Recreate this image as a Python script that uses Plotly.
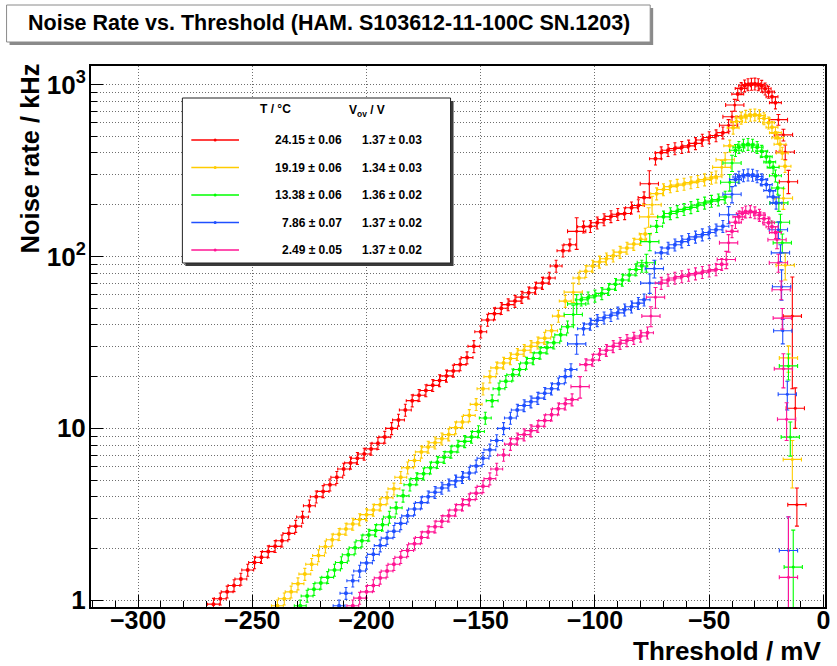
import plotly.graph_objects as go

# ---------------- data: dark-count rate vs. discriminator threshold ----------------
temperatures = ["24.15 ± 0.06", "19.19 ± 0.06", "13.38 ± 0.06", "7.86 ± 0.07", "2.49 ± 0.05"]
overvoltages = ["1.37 ± 0.03", "1.34 ± 0.03", "1.36 ± 0.02", "1.37 ± 0.02", "1.37 ± 0.02"]
colors = ["#ff0000", "#ffcc00", "#00ff00", "#1f4fff", "#ff1493"]

y_tick_vals = [1, 10, 100, 1000]
y_tick_text = ["1", "10", "10<sup>2</sup>", "10<sup>3</sup>"]

# T = 24.15 C : densely sampled points (mV, kHz)
red_x = [-267, -264, -261, -258, -255, -252, -249, -246, -243, -240, -237, -234, -231, -228, -225,
         -222, -219, -216, -213, -210, -207, -204, -201, -198, -195, -192, -189, -186, -183, -180,
         -177, -174, -171, -168, -165, -162, -159, -156, -153, -150, -147, -144, -141, -138, -135,
         -132, -129, -126, -123, -120, -117, -114, -111,
         -105, -102, -99, -96, -93, -90, -87, -84, -81, -78.5,
         -73.5, -71, -68, -65, -62, -59, -56, -53, -50, -47, -44,
         -37.5, -36, -34.5, -33, -31.5, -30, -28.5, -27, -25.5, -24, -22.5, -21]
red_y = [0.95, 1.02, 1.12, 1.22, 1.33, 1.50, 1.66, 1.78, 1.92, 2.06, 2.22, 2.45, 2.70, 3.05, 3.55,
         4.00, 4.30, 4.70, 5.20, 5.80, 6.30, 6.70, 7.10, 7.60, 8.20, 8.90, 10.0, 11.2, 12.8, 14.5,
         15.6, 16.6, 17.8, 19.0, 20.2, 21.6, 23.5, 25.8, 30.0, 36.5, 42.7, 46.5, 50.0, 52.5, 55.0,
         58.0, 61.5, 65.5, 70.0, 75.0, 88.0, 108, 117,
         149, 150, 157, 164, 171, 176, 178, 192, 198, 220,
         370, 402, 415, 425, 432, 440, 455, 476, 492, 505, 525,
         880, 950, 985, 1000, 1008, 1010, 1000, 980, 945, 905, 850, 785]
# sparsely sampled points (steps and fall-off) with their own uncertainties
red_sx = [-108, -76.2, -41.5, -40, -38.8, -19.7, -17.5, -16.7, -15.3, -13.6, -12.3, -11.6]
red_sy = [140, 265, 580, 650, 760, 625, 510, 405, 272, 45, 13.1, 3.6]
red_up = [28, 50, 45, 50, 60, 45, 40, 40, 45, 31, 4.1, 0.9]
red_dn = [30, 45, 45, 50, 60, 45, 40, 40, 40, 28, 3.1, 0.9]

# T = 19.19 C
yel_x = [-239, -236, -233, -230, -227, -224, -221, -218, -215, -212, -209, -206, -203, -200, -197,
         -194, -191, -188, -185, -182, -179, -176, -173, -170, -167, -164, -161, -158, -155, -152,
         -149, -146, -143, -140, -137, -134, -131, -128, -125, -122, -119, -116, -113,
         -107, -104, -101, -98, -95, -92, -89, -86, -83, -80, -78,
         -73, -70, -67, -64, -61, -58, -55, -52, -49, -47,
         -41, -39.5, -38, -36, -34, -32, -30, -28, -26, -24, -22.5, -21, -20, -19, -18, -16.8]
yel_y = [0.93, 1.02, 1.12, 1.25, 1.42, 1.62, 1.82, 2.05, 2.25, 2.42, 2.60, 2.78, 2.95, 3.15, 3.35,
         3.60, 3.95, 4.45, 5.20, 5.90, 6.50, 7.30, 7.80, 8.25, 8.70, 9.20, 10.1, 10.9, 11.9, 13.8,
         17.0, 20.0, 22.5, 24.0, 25.5, 27.0, 28.5, 30.0, 31.5, 33.5, 37.0, 45.0, 55.0,
         75, 82, 88, 93, 97, 101, 106, 112, 118, 126, 135,
         232, 245, 255, 260, 264, 269, 274, 280, 286, 291,
         440, 560, 610, 640, 655, 665, 668, 660, 635, 600, 565, 525, 490, 450, 400, 335]
yel_sx = [-109.5, -76.5, -75, -44.5, -43, -17.5, -16.7, -15.3, -13.6]
yel_sy = [62, 170, 200, 330, 365, 218, 89, 25.7, 6.6]
yel_up = [8, 22, 24, 32, 36, 30, 16, 4.5, 1.9]
yel_dn = [8, 22, 24, 32, 36, 30, 16, 4.5, 2.1]

# T = 13.38 C
grn_x = [-229, -226, -223, -220, -217, -214, -211, -208, -205, -202, -199, -196, -193, -190, -187,
         -184, -181, -178, -175, -172, -169, -166, -163, -160, -157, -154, -151, -148, -145, -142,
         -139, -136, -133, -130, -127, -124, -121, -118, -115, -112,
         -106, -103, -100, -97, -94, -91, -88, -85, -82, -79.5,
         -73, -70, -67, -64, -61, -58, -55, -52, -49, -46, -43,
         -38.5, -37, -35, -33, -31, -29, -27, -25, -23.5, -22, -21, -20]
grn_y = [0.93, 1.06, 1.16, 1.26, 1.36, 1.50, 1.66, 1.84, 2.02, 2.22, 2.40, 2.55, 2.75, 3.05, 3.45,
         4.05, 4.70, 5.10, 5.45, 5.90, 6.35, 6.80, 7.30, 7.90, 8.40, 8.90, 9.60, 11.5, 14.5, 17.0,
         18.8, 20.5, 22.0, 24.0, 25.5, 27.5, 29.5, 31.5, 35.0, 39.0,
         56, 57.5, 59, 61, 64.5, 69, 73, 78, 84, 88,
         150, 170, 178, 183, 188, 193, 199, 205, 210, 214, 222,
         415, 432, 445, 450, 445, 432, 410, 380, 355, 330, 295, 250]
grn_sx = [-109.5, -108, -77.5, -76, -41, -40, -19.5, -18.8, -18, -15.3, -14.5, -13.2]
grn_sy = [46, 53, 92, 122, 270, 350, 205, 158, 120, 23.1, 8.9, 1.56]
grn_up = [6, 7, 11, 14, 30, 38, 22, 18, 15, 4, 2, 1.0]
grn_dn = [6, 7, 11, 14, 30, 38, 22, 18, 15, 4, 2, 1.56]

# T = 7.86 C
blu_x = [-212, -209, -206, -203, -200, -197, -194, -191, -188, -185, -182, -179, -176, -173, -170,
         -167, -164, -161, -158, -155, -152, -149, -146, -143, -140, -137, -134, -131, -128, -125,
         -122, -119, -116, -113, -110.5,
         -105, -102, -99, -96, -93, -90, -87, -84, -81, -78.5,
         -71, -68, -65, -62, -59, -56, -53, -50, -47, -44,
         -38.5, -37, -35, -33, -31, -29, -27, -25, -23.5, -22, -20.7]
blu_y = [0.93, 1.10, 1.30, 1.48, 1.65, 1.85, 2.08, 2.30, 2.52, 2.80, 3.10, 3.40, 3.70, 4.00, 4.25,
         4.50, 4.70, 4.95, 5.20, 5.50, 6.05, 6.70, 7.50, 8.50, 10.0, 11.5, 12.8, 13.6, 14.3, 15.0,
         16.0, 17.0, 18.2, 20.0, 22.0,
         38, 40.5, 42.5, 44, 45.5, 47, 49, 51, 53.5, 56,
         105, 112, 117, 122, 126, 130, 134, 138, 143, 150,
         280, 290, 296, 299, 298, 292, 280, 262, 242, 222, 205]
blu_sx = [-108, -76, -74, -41.5, -40, -19.7, -18.8, -18.3, -17.8, -15.8, -15.3]
blu_sy = [31, 70, 85, 175, 230, 143, 105, 66.6, 37, 15.8, 1.95]
blu_up = [4, 9, 10, 20, 25, 16, 12, 17, 6, 3, 1.1]
blu_dn = [4, 9, 10, 20, 25, 16, 12, 11, 6, 3, 1.95]

# T = 2.49 C
pnk_x = [-206, -203, -200, -197, -194, -191, -188, -185, -182, -179, -176, -173, -170, -167, -164,
         -161, -158, -155, -152, -149, -146, -143, -140, -137, -134, -131, -128, -125, -122, -119,
         -116, -113, -110,
         -104, -101, -98, -95, -92, -89, -86, -83, -80, -77,
         -71, -68, -65, -62, -59, -56, -53, -50, -47, -44.5,
         -40, -38.5, -37, -35.5, -34, -32, -30, -28, -26, -24, -22.5, -21]
pnk_y = [0.93, 1.03, 1.12, 1.22, 1.35, 1.48, 1.62, 1.78, 1.95, 2.13, 2.32, 2.50, 2.68, 2.88, 3.10,
         3.35, 3.60, 3.85, 4.20, 4.60, 5.10, 5.80, 7.00, 8.10, 8.70, 9.20, 9.70, 10.3, 11.1, 12.0,
         13.0, 13.9, 14.7,
         23.5, 25.0, 27.0, 28.5, 30.0, 31.3, 32.5, 33.5, 34.5, 36.0,
         70, 73, 75, 76.5, 78, 79.5, 81, 82.5, 84, 90,
         140, 158, 170, 178, 182, 183, 180, 174, 166, 157, 149, 138]
pnk_sx = [-106.5, -75.5, -73.5, -42.5, -41.5, -20.3, -19.7, -18.5, -18, -17.5, -16.1, -15.3]
pnk_sy = [17.5, 45, 58, 96, 120, 125, 92, 64, 43.8, 22.2, 11.3, 1.36]
pnk_up = [2.5, 6, 8, 11, 14, 14, 11, 8, 6, 5, 2.8, 1.7]
pnk_dn = [2.5, 6, 8, 11, 14, 14, 11, 8, 6, 5, 2.8, 1.36]

series = [
    (red_x, red_y, red_sx, red_sy, red_up, red_dn),
    (yel_x, yel_y, yel_sx, yel_sy, yel_up, yel_dn),
    (grn_x, grn_y, grn_sx, grn_sy, grn_up, grn_dn),
    (blu_x, blu_y, blu_sx, blu_sy, blu_up, blu_dn),
    (pnk_x, pnk_y, pnk_sx, pnk_sy, pnk_up, pnk_dn),
]

# ---------------- figure geometry (pixels) ----------------
W, H = 837, 666
L, R, T, B = 91, 830, 66, 607
FONT = "Liberation Sans"


def fx(px):
    return (px - L) / (R - L)


def fy(py):
    return (B - py) / (B - T)


fig = go.Figure()

for (x, y, sx, sy, up, dn), c in zip(series, colors):
    fig.add_trace(go.Scatter(
        x=x, y=y, mode="markers",
        marker=dict(color=c, size=4),
        error_x=dict(type="constant", value=2.6, color=c, thickness=1.1, width=1.5),
        error_y=dict(type="percent", value=8, color=c, thickness=1.1, width=1.5),
        hoverinfo="x+y", showlegend=False,
    ))
    fig.add_trace(go.Scatter(
        x=sx, y=sy, mode="markers",
        marker=dict(color=c, size=3),
        error_x=dict(type="constant", value=4, color=c, thickness=1.1, width=2),
        error_y=dict(type="data", array=up, arrayminus=dn, symmetric=False,
                     color=c, thickness=1.1, width=2),
        hoverinfo="x+y", showlegend=False,
    ))

grid = dict(showgrid=True, gridcolor="#6e6e6e", gridwidth=1, griddash="1px,2px")

fig.update_xaxes(
    range=[-320.6, 0.7], tickmode="linear", tick0=0, dtick=50,
    ticks="inside", ticklen=12, tickwidth=1, tickcolor="black",
    showline=True, linecolor="black", linewidth=2, mirror=True, zeroline=False,
    tickfont=dict(family=FONT, size=25, color="black", weight="bold"),
    ticklabelstandoff=-10,
    minor=dict(dtick=10, tick0=0, ticks="inside", ticklen=6, tickcolor="black", showgrid=False),
    **grid,
)

minor_vals = [m * d for d in (1, 10, 100) for m in range(2, 10)]
fig.update_yaxes(
    type="log", range=[-0.039, 3.108],
    tickvals=y_tick_vals, ticktext=y_tick_text,
    ticks="inside", ticklen=12, tickwidth=1, tickcolor="black",
    showline=True, linecolor="black", linewidth=2, mirror=True, zeroline=False,
    tickfont=dict(family=FONT, size=26, color="black", weight="bold"),
    ticklabelstandoff=-2,
    minor=dict(tickvals=minor_vals, ticks="inside", ticklen=6, tickcolor="black",
               showgrid=True, gridcolor="#6e6e6e", griddash="1px,2px", gridwidth=1),
    **grid,
)

shapes = []
annotations = []

# title pave with shadow
shapes.append(dict(type="rect", xref="paper", yref="paper", layer="above",
                   x0=fx(9), x1=fx(657), y0=fy(45), y1=fy(8),
                   fillcolor="#8a8a8a", line=dict(width=0)))
shapes.append(dict(type="rect", xref="paper", yref="paper", layer="above",
                   x0=fx(6), x1=fx(654), y0=fy(42), y1=fy(5),
                   fillcolor="white", line=dict(color="#8a8a8a", width=1)))
annotations.append(dict(text="Noise Rate vs. Threshold (HAM. S103612-11-100C SN.1203)",
                        xref="paper", yref="paper", x=fx(331), y=fy(23),
                        xanchor="center", yanchor="middle", showarrow=False,
                        font=dict(family=FONT, size=21.5, color="black", weight="bold")))

# axis titles
annotations.append(dict(text="Threshold / mV", xref="paper", yref="paper",
                        x=fx(828), y=fy(651), xanchor="right", yanchor="middle",
                        showarrow=False,
                        font=dict(family=FONT, size=26, color="black", weight="bold")))
annotations.append(dict(text="Noise rate / kHz", xref="paper", yref="paper",
                        x=fx(30), y=fy(61), xanchor="center", yanchor="top",
                        textangle=-90, showarrow=False,
                        font=dict(family=FONT, size=25.5, color="black", weight="bold")))

# legend box with shadow
lx0, ly0, lx1, ly1 = 183, 98, 453, 263
shapes.append(dict(type="rect", xref="paper", yref="paper", layer="above",
                   x0=fx(lx0 + 3), x1=fx(lx1 + 3), y0=fy(ly1 + 3), y1=fy(ly0 + 3),
                   fillcolor="#3a3a3a", line=dict(width=0)))
shapes.append(dict(type="rect", xref="paper", yref="paper", layer="above",
                   x0=fx(lx0), x1=fx(lx1), y0=fy(ly1), y1=fy(ly0),
                   fillcolor="white", line=dict(color="#222222", width=1)))

lfont = dict(family=FONT, size=12, color="black", weight="bold")
annotations.append(dict(text="T / °C", xref="paper", yref="paper", x=fx(277), y=fy(109),
                        xanchor="center", yanchor="middle", showarrow=False, font=lfont))
annotations.append(dict(text="V<sub>ov</sub> / V", xref="paper", yref="paper", x=fx(349), y=fy(111),
                        xanchor="left", yanchor="middle", showarrow=False, font=lfont))

row0, row_step = 140, 27.5
for i, c in enumerate(colors):
    ry = row0 + i * row_step
    shapes.append(dict(type="line", xref="paper", yref="paper", layer="above",
                       x0=fx(192), x1=fx(240), y0=fy(ry), y1=fy(ry),
                       line=dict(color=c, width=1.3)))
    shapes.append(dict(type="circle", xref="paper", yref="paper", layer="above",
                       x0=fx(214.5), x1=fx(217.5), y0=fy(ry + 1.5), y1=fy(ry - 1.5),
                       fillcolor=c, line=dict(width=0)))
    annotations.append(dict(text=temperatures[i], xref="paper", yref="paper", x=fx(346), y=fy(ry),
                            xanchor="right", yanchor="middle", showarrow=False, font=lfont))
    annotations.append(dict(text=overvoltages[i], xref="paper", yref="paper", x=fx(362), y=fy(ry),
                            xanchor="left", yanchor="middle", showarrow=False, font=lfont))

fig.update_layout(
    width=W, height=H,
    margin=dict(l=L, r=W - R, t=T, b=H - B, pad=0),
    paper_bgcolor="white", plot_bgcolor="white",
    showlegend=False,
    font=dict(family=FONT, color="black"),
    shapes=shapes, annotations=annotations,
)

fig.write_html("out.html")
